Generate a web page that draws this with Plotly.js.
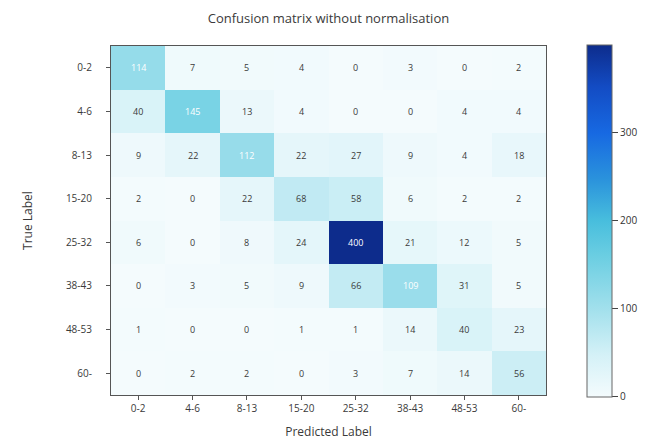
<!DOCTYPE html>
<html>
<head>
<meta charset="utf-8">
<script src="https://cdn.plot.ly/plotly-3.0.1.min.js"></script>
<style>html,body{margin:0;padding:0;background:#fff;}#chart{width:655px;height:441px;}</style>
</head>
<body>
<div id="chart"></div>
<script>
var labels = ["0-2","4-6","8-13","15-20","25-32","38-43","48-53","60-"];
var row_0_2   = [114, 7, 5, 4, 0, 3, 0, 2];
var row_4_6   = [40, 145, 13, 4, 0, 0, 4, 4];
var row_8_13  = [9, 22, 112, 22, 27, 9, 4, 18];
var row_15_20 = [2, 0, 22, 68, 58, 6, 2, 2];
var row_25_32 = [6, 0, 8, 24, 400, 21, 12, 5];
var row_38_43 = [0, 3, 5, 9, 66, 109, 31, 5];
var row_48_53 = [1, 0, 0, 1, 1, 14, 40, 23];
var row_60    = [0, 2, 2, 0, 3, 7, 14, 56];
var colorbarTicks = [0, 100, 200, 300];

var z = [row_0_2, row_4_6, row_8_13, row_15_20, row_25_32, row_38_43, row_48_53, row_60];

var colorscale = [
  [0.0, "#f4fbfd"],
  [0.12, "#d4f1f7"],
  [0.25, "#a2e0ec"],
  [0.4, "#6bcee2"],
  [0.5, "#48bedd"],
  [0.62, "#2a92dc"],
  [0.75, "#1769e2"],
  [0.88, "#134cc4"],
  [1.0, "#0d2c8c"]
];

var annotations = [];
for (var i = 0; i < z.length; i++) {
  for (var j = 0; j < z[i].length; j++) {
    annotations.push({
      x: labels[j], y: labels[i], xref: "x", yref: "y",
      text: String(z[i][j]), showarrow: false,
      font: {family: "Open Sans, DejaVu Sans, sans-serif", size: 9,
             color: z[i][j] > 100 ? "#ffffff" : "#3a3a3a"}
    });
  }
}

var trace = {
  type: "heatmap",
  x: labels, y: labels, z: z,
  zmin: 0, zmax: 400,
  colorscale: colorscale,
  xgap: 0, ygap: 0,
  hoverinfo: "skip",
  colorbar: {
    x: 1.094, xanchor: "left",
    y: 0.4986, yanchor: "middle",
    thickness: 25, thicknessmode: "pixels",
    len: 352, lenmode: "pixels",
    outlinewidth: 1, outlinecolor: "#666666",
    tickvals: colorbarTicks, ticktext: colorbarTicks.map(String),
    ticks: "outside", ticklen: 6, tickcolor: "#444444",
    tickfont: {family: "Open Sans, DejaVu Sans, sans-serif", size: 10, color: "#333333"},
    xpad: 0, ypad: 0
  }
};

var layout = {
  width: 655, height: 441,
  margin: {l: 111, r: 109, t: 46, b: 46},
  paper_bgcolor: "#ffffff", plot_bgcolor: "#ffffff",
  title: {text: "Confusion matrix without normalisation", x: 0.5015, xanchor: "center", y: 0.958, yanchor: "middle",
          font: {family: "Open Sans, DejaVu Sans, sans-serif", size: 13, color: "#3a3a3a"}},
  xaxis: {
    type: "category", showline: true, mirror: true, linecolor: "#555555", linewidth: 1,
    ticks: "outside", ticklen: 4, tickcolor: "#555555", showgrid: false, zeroline: false,
    tickfont: {family: "Open Sans, DejaVu Sans, sans-serif", size: 10, color: "#3a3a3a"},
    title: {text: "Predicted Label", standoff: 13,
            font: {family: "Open Sans, DejaVu Sans, sans-serif", size: 12, color: "#3a3a3a"}}
  },
  yaxis: {
    type: "category", autorange: "reversed", showline: true, mirror: true, linecolor: "#555555", linewidth: 1,
    ticks: "outside", ticklen: 4, tickcolor: "#555555", showgrid: false, zeroline: false,
    ticklabelstandoff: 12,
    tickfont: {family: "Open Sans, DejaVu Sans, sans-serif", size: 10, color: "#3a3a3a"},
    title: {text: "True Label", standoff: 30,
            font: {family: "Open Sans, DejaVu Sans, sans-serif", size: 12, color: "#3a3a3a"}}
  },
  annotations: annotations
};

Plotly.newPlot("chart", [trace], layout, {displayModeBar: false, staticPlot: true});
</script>
</body>
</html>
